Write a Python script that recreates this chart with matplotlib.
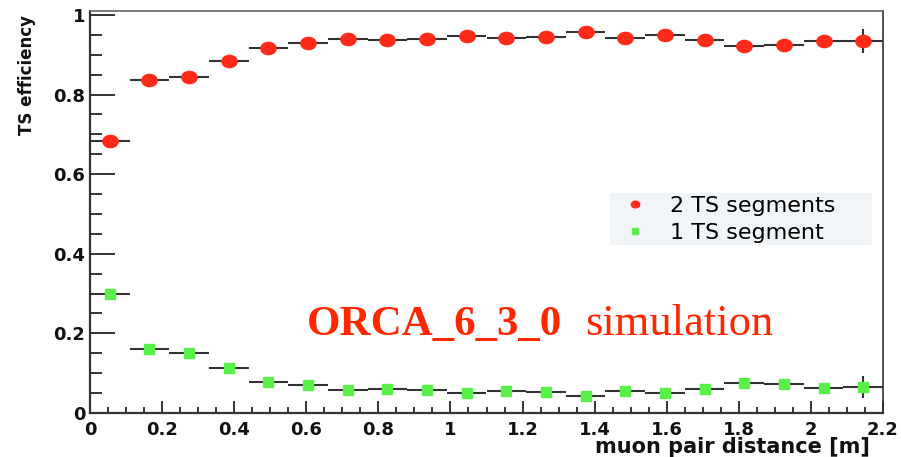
import numpy as np
import matplotlib
matplotlib.use("Agg")
import matplotlib.pyplot as plt
from matplotlib.path import Path
from matplotlib.transforms import Affine2D
from matplotlib.lines import Line2D
from matplotlib.patches import Rectangle
from matplotlib.ticker import MultipleLocator, FixedLocator, FixedFormatter

# ---------------- data ----------------
bin_width = 0.11
bin_centers = [0.055, 0.165, 0.275, 0.385, 0.495, 0.605, 0.715, 0.825, 0.935, 1.045,
               1.155, 1.265, 1.375, 1.485, 1.595, 1.705, 1.815, 1.925, 2.035, 2.145]
eff_2ts = [0.683, 0.837, 0.844, 0.884, 0.918, 0.929, 0.939, 0.937, 0.940, 0.947,
           0.941, 0.944, 0.956, 0.943, 0.950, 0.937, 0.921, 0.925, 0.934, 0.934]
err_2ts = [0.006, 0.005, 0.005, 0.005, 0.004, 0.004, 0.004, 0.004, 0.004, 0.004,
           0.004, 0.004, 0.004, 0.004, 0.005, 0.005, 0.006, 0.007, 0.009, 0.030]
eff_1ts = [0.300, 0.160, 0.150, 0.113, 0.078, 0.070, 0.059, 0.060, 0.058, 0.051,
           0.056, 0.054, 0.042, 0.055, 0.049, 0.060, 0.075, 0.074, 0.062, 0.066]
err_1ts = [0.006, 0.005, 0.005, 0.004, 0.004, 0.004, 0.004, 0.004, 0.004, 0.004,
           0.004, 0.004, 0.004, 0.004, 0.005, 0.005, 0.006, 0.007, 0.009, 0.028]
series_labels = ["2 TS segments", "1 TS segment"]
xtick_values = [0, 0.2, 0.4, 0.6, 0.8, 1.0, 1.2, 1.4, 1.6, 1.8, 2.0, 2.2]
xtick_labels = ["0", "0.2", "0.4", "0.6", "0.8", "1", "1.2", "1.4", "1.6", "1.8", "2", "2.2"]
ytick_values = [0, 0.2, 0.4, 0.6, 0.8, 1.0]
ytick_labels = ["0", "0.2", "0.4", "0.6", "0.8", "1"]
x_title = "muon pair distance [m]"
y_title = "TS efficiency"
note_bold = "ORCA_6_3_0"
note_plain = "simulation"

# ---------------- style ----------------
RED = "#ff2a17"
GREEN = "#5af04a"
BAR = "#333333"
TXT_RED = "#ff2600"

W, H = 901, 457
fig = plt.figure(figsize=(W / 100, H / 100), dpi=100)
ax = fig.add_axes([90 / W, (H - 413) / H, (883 - 90) / W, (413 - 11) / H])

ax.set_xlim(0, 2.2)
ax.set_ylim(0, 1.01)

ell = Path.unit_circle().transformed(Affine2D().scale(1.25, 1.0))

x = np.array(bin_centers)
ax.errorbar(x, eff_2ts, xerr=bin_width / 2, yerr=err_2ts, fmt="none",
            ecolor=BAR, elinewidth=1.5, capsize=0, zorder=2)
ax.errorbar(x, eff_1ts, xerr=bin_width / 2, yerr=err_1ts, fmt="none",
            ecolor=BAR, elinewidth=1.5, capsize=0, zorder=2)
ax.plot(x, eff_2ts, ls="none", marker=ell, ms=11, color=RED, mec=RED, zorder=3)
ax.plot(x, eff_1ts, ls="none", marker="s", ms=7, color=GREEN, mec=GREEN, zorder=3)

# ticks
ax.xaxis.set_major_locator(FixedLocator(xtick_values))
ax.xaxis.set_major_formatter(FixedFormatter(xtick_labels))
ax.xaxis.set_minor_locator(MultipleLocator(0.05))
ax.yaxis.set_major_locator(FixedLocator(ytick_values))
ax.yaxis.set_major_formatter(FixedFormatter(ytick_labels))
ax.yaxis.set_minor_locator(MultipleLocator(0.05))

ax.tick_params(axis="x", which="major", direction="in", length=8.6, width=1.4,
               color="#333333", pad=5.5, top=False)
ax.tick_params(axis="x", which="minor", direction="in", length=4.3, width=1.4,
               color="#333333", top=False)
ax.tick_params(axis="y", which="major", direction="in", length=18, width=1.4,
               color="#333333", pad=3.4, right=False)
ax.tick_params(axis="y", which="minor", direction="in", length=8.6, width=1.4,
               color="#333333", right=False)
for lab in ax.get_xticklabels() + ax.get_yticklabels():
    lab.set_fontfamily("DejaVu Sans")
    lab.set_fontweight("bold")
    lab.set_fontsize(13)
    lab.set_color("#111111")

for side, (c, lw) in {"left": ("#333333", 1.6), "bottom": ("#333333", 1.6),
                      "top": ("#666666", 1.2), "right": ("#333333", 1.2)}.items():
    ax.spines[side].set_color(c)
    ax.spines[side].set_linewidth(lw)

# axis titles
ax.set_xlabel(x_title, fontsize=15, fontweight="bold", family="DejaVu Sans",
              ha="right", va="center", color="#111111")
ax.xaxis.set_label_coords((870 - 90) / 793, -(447 - 413) / 402)
ax.set_ylabel(y_title, fontsize=12, fontweight="bold", family="DejaVu Sans",
              ha="right", va="center", color="#111111")
ax.yaxis.set_label_coords(-(90 - 27) / 793, (413 - 15) / 402)

# legend
ax.add_patch(Rectangle(((610 - 90) / 793, (413 - 245) / 402), 262 / 793, 52 / 402,
                       transform=ax.transAxes, facecolor="#f2f5f8", edgecolor="none",
                       zorder=4))
handles = [Line2D([], [], ls="none", marker=ell, ms=6, color=RED),
           Line2D([], [], ls="none", marker="s", ms=4.5, color=GREEN)]
leg = ax.legend(handles, series_labels, loc="upper left",
                bbox_to_anchor=((626 - 90) / 793, (413 - 196) / 402),
                frameon=False, handlelength=0.8, handletextpad=1.2,
                borderpad=0, borderaxespad=0, labelspacing=0.3,
                prop={"family": "DejaVu Sans", "size": 16})
leg.set_zorder(5)

# annotation
ax.text((307 - 90) / 793, (413 - 335) / 402, note_bold, transform=ax.transAxes,
        family="Liberation Serif", fontweight="bold", fontsize=31, color=TXT_RED,
        ha="left", va="baseline")
ax.text((585 - 90) / 793, (413 - 335) / 402, note_plain, transform=ax.transAxes,
        family="Liberation Serif", fontsize=32, color=TXT_RED,
        ha="left", va="baseline")

fig.savefig("out.png", dpi=100)
